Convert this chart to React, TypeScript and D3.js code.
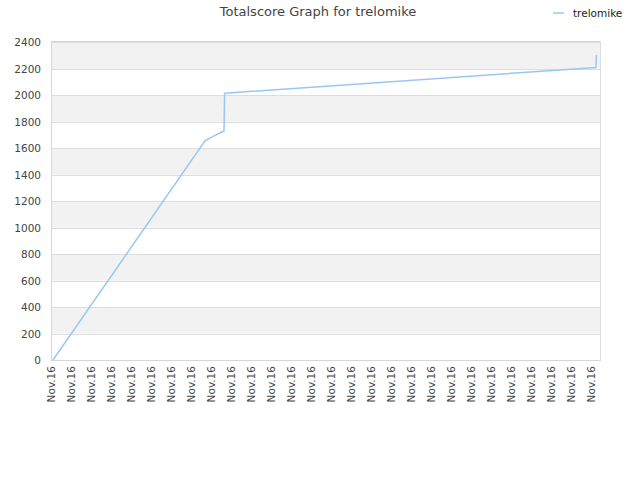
import React from "react";
import * as d3 from "d3";

const title = "Totalscore Graph for trelomike";
const seriesName = "trelomike";
const xLabels = [
  "Nov.16", "Nov.16", "Nov.16", "Nov.16", "Nov.16", "Nov.16", "Nov.16",
  "Nov.16", "Nov.16", "Nov.16", "Nov.16", "Nov.16", "Nov.16", "Nov.16",
  "Nov.16", "Nov.16", "Nov.16", "Nov.16", "Nov.16", "Nov.16", "Nov.16",
  "Nov.16", "Nov.16", "Nov.16", "Nov.16", "Nov.16", "Nov.16", "Nov.16",
];
const yTicks = [0, 200, 400, 600, 800, 1000, 1200, 1400, 1600, 1800, 2000, 2200, 2400];
const pointPos = [0.1, 7.7, 8.1, 8.65, 8.68, 27.25, 27.27];
const scores = [0, 1655, 1690, 1730, 2015, 2210, 2305];

const W = 640;
const H = 480;
const M = { left: 51, right: 600, top: 41, bottom: 360 };
const FONT = "'DejaVu Sans', sans-serif";
const LINE = "#99c7f4";

export default function App() {
  const x = d3.scaleLinear().domain([0, 27.45]).range([M.left, M.right]);
  const y = d3.scaleLinear().domain([0, 2410]).range([M.bottom, M.top]);
  const pts = pointPos.map((p, i) => [p, scores[i]] as [number, number]);
  const line = d3
    .line<[number, number]>()
    .x((d) => x(d[0]))
    .y((d) => y(d[1]));

  const bands = yTicks.map((t, i) => ({
    lo: t,
    hi: i + 1 < yTicks.length ? yTicks[i + 1] : 2410,
    gray: i % 2 === 1 || i === yTicks.length - 1,
  }));

  return (
    <svg
      width={W}
      height={H}
      style={{ position: "absolute", left: 0, top: 0, background: "#fff" }}
      fontFamily={FONT}
    >
      <text x={318} y={16} textAnchor="middle" fontSize={13} fill="#444">
        {title}
      </text>
      <line x1={553} x2={564} y1={13} y2={13} stroke={LINE} strokeWidth={1.5} />
      <text x={573} y={16.5} fontSize={10.5} fill="#222">
        {seriesName}
      </text>

      {bands.map((b, i) => (
        <rect
          key={i}
          x={M.left}
          width={M.right - M.left}
          y={y(b.hi)}
          height={y(b.lo) - y(b.hi)}
          fill={b.gray ? "#f2f2f2" : "#ffffff"}
        />
      ))}
      {yTicks.map((t) => (
        <line
          key={t}
          x1={M.left}
          x2={M.right}
          y1={Math.round(y(t)) + 0.5}
          y2={Math.round(y(t)) + 0.5}
          stroke="#dddddd"
          strokeWidth={1}
        />
      ))}
      <line x1={M.left} x2={M.right} y1={M.top + 0.5} y2={M.top + 0.5} stroke="#d6d6d6" />
      <line x1={M.left + 0.5} x2={M.left + 0.5} y1={M.top} y2={M.bottom + 1} stroke="#d6d6d6" />
      <line x1={M.right + 0.5} x2={M.right + 0.5} y1={M.top} y2={M.bottom + 1} stroke="#dddddd" />
      <line x1={M.left} x2={M.right + 1} y1={M.bottom + 0.5} y2={M.bottom + 0.5} stroke="#d6d6d6" />

      {yTicks.map((t) => (
        <text
          key={t}
          x={41}
          y={y(t) + 4}
          textAnchor="end"
          fontSize={10.5}
          fill="#444"
        >
          {t}
        </text>
      ))}

      {xLabels.map((l, i) => (
        <text
          key={i}
          transform={`translate(${x(i) + 3.5},${366}) rotate(-90)`}
          textAnchor="end"
          fontSize={10.5}
          fill="#444"
        >
          {l}
        </text>
      ))}

      <path d={line(pts) || ""} fill="none" stroke={LINE} strokeWidth={1.5} />
    </svg>
  );
}
